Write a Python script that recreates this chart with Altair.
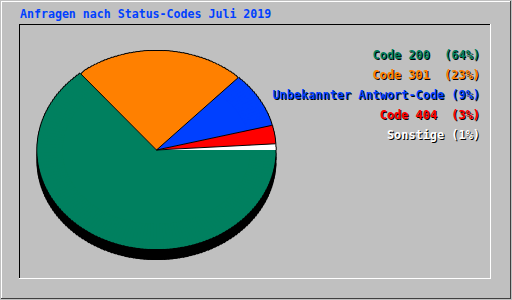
import math

import altair as alt
import pandas as pd

# ---- data -----------------------------------------------------------------
title_text = "Anfragen nach Status-Codes Juli 2019"
labels = ["Code 200", "Code 301", "Unbekannter Antwort-Code", "Code 404", "Sonstige"]
percents = [64, 23, 9, 3, 1]
colors = ["#00805F", "#FF8000", "#0040FF", "#FF0000", "#FFFFFF"]
gaps = [2, 2, 1, 2, 1]

# ---- layout / style ---------------------------------------------------------
W, H = 512, 300
BG = "#C0C0C0"
FONT = "DejaVu Sans Mono"
TITLE_FS = 11.6
LEG_FS = 11.9
CX, CY = 156.5, 150.0      # pie centre
RX, RY = 119.0, 99.0       # ellipse semi-axes
DEPTH = 10                 # height of the dark side of the pie
STEP = 0.5                 # angular resolution (percent of the circle)
LEG_X, LEG_Y0, LEG_DY = 480, 54.5, 20

NBSP = "\u00a0"
legend_text = [f"{n}{NBSP * g}({p}%)" for n, g, p in zip(labels, gaps, percents)]
df = pd.DataFrame(
    {"label": labels, "value": percents, "order": list(range(len(labels))), "legend": legend_text}
)

color_scale = alt.Scale(domain=labels, range=colors)
theta_scale = alt.Scale(domain=[0, 100], range=[math.pi / 2, math.pi / 2 + 2 * math.pi])


def tau(f):
    """Parametric angle (clockwise from north) of a share position f in percent."""
    return f"(PI/2 + 2*PI*({f})/100)"


def screen_pct(f):
    """Share position f moved to the true screen direction of the squashed circle."""
    t = tau(f)
    phi = f"atan2({RX}*sin({t}), {RY}*cos({t}))"
    return f"(({f}) + atan2(sin({phi} - {t}), cos({phi} - {t}))*100/(2*PI))"


def radius(f):
    t = tau(f)
    return f"sqrt(pow({RX}*sin({t}),2) + pow({RY}*cos({t}),2))"


def cumulated(chart):
    return chart.transform_window(
        cum="sum(value)", sort=[alt.SortField("order")], frame=[None, 0]
    ).transform_calculate(start="datum.cum - datum.value")


theta = alt.Theta("s:Q", scale=theta_scale, stack=None)
theta2 = alt.Theta2("e:Q")
slice_color = alt.Color("label:N", scale=color_scale, legend=None)

# solid core of every slice (inside the ellipse's inner circle)
core = (
    cumulated(alt.Chart(df))
    .transform_calculate(s=screen_pct("datum.start"))
    .transform_calculate(e=screen_pct("datum.cum"))
    .mark_arc(radius=RY - 2)
    .encode(theta=theta, theta2=theta2, color=slice_color, x=alt.value(CX), y=alt.value(CY))
)

# each slice split into thin overlapping wedges that follow the ellipse
wedges = (
    cumulated(alt.Chart(df))
    .transform_calculate(s0=f"sequence(datum.start, datum.cum, {STEP})")
    .transform_flatten(["s0"])
    .transform_calculate(e0=f"min(datum.s0 + {2 * STEP}, datum.cum)")
    .transform_calculate(s=screen_pct("datum.s0"))
    .transform_calculate(e=screen_pct("datum.e0"))
    .transform_calculate(r=radius(f"(datum.s0 + datum.e0)/2"))
    .transform_calculate(ro="datum.r + 1", ri="datum.r - 3", rs="datum.r - 25")
)

side = wedges.mark_arc(fill="#000000").encode(
    theta=theta, theta2=theta2,
    radius=alt.Radius("ro:Q", scale=None), radius2=alt.Radius2("rs:Q"),
    x=alt.value(CX), y=alt.value(CY + DEPTH),
)
rim = wedges.mark_arc(fill="#000000").encode(
    theta=theta, theta2=theta2,
    radius=alt.Radius("ro:Q", scale=None), radius2=alt.Radius2("ri:Q"),
    x=alt.value(CX), y=alt.value(CY),
)
slices = wedges.mark_arc().encode(
    theta=theta, theta2=theta2,
    radius=alt.Radius("r:Q", scale=None), radius2=alt.Radius2("rs:Q"),
    color=slice_color, x=alt.value(CX), y=alt.value(CY),
)

# black separators between neighbouring slices
dividers = (
    cumulated(alt.Chart(df))
    .transform_filter("datum.cum < 100")
    .transform_calculate(px=f"{CX} + {RX}*sin({tau('datum.cum')})")
    .transform_calculate(py=f"{CY} - {RY}*cos({tau('datum.cum')})")
    .mark_rule(color="#000000", strokeWidth=1)
    .encode(
        x=alt.X("px:Q", scale=None, axis=None),
        y=alt.Y("py:Q", scale=None, axis=None),
        x2=alt.value(CX),
        y2=alt.value(CY),
    )
)

# legend texts at the right, with a dark drop shadow
legend_base = alt.Chart(df).transform_calculate(ty=f"{LEG_Y0} + {LEG_DY}*datum.order")
text_style = dict(align="right", baseline="middle", font=FONT, fontSize=LEG_FS, fontWeight="bold")
legend_shadow = legend_base.mark_text(dx=1, dy=1, fill="#000000", **text_style).encode(
    x=alt.value(LEG_X), y=alt.Y("ty:Q", scale=None, axis=None), text="legend:N"
)
legend_main = legend_base.mark_text(**text_style).encode(
    x=alt.value(LEG_X), y=alt.Y("ty:Q", scale=None, axis=None), text="legend:N",
    color=slice_color,
)

title = alt.Chart(pd.DataFrame({"t": [title_text]})).mark_text(
    align="left", baseline="middle", font=FONT, fontSize=TITLE_FS, fontWeight="bold", fill="#0040FF"
).encode(x=alt.value(20), y=alt.value(15), text="t:N")

# bevelled frame lines
one = pd.DataFrame({"k": [0]})


def line(x1, y1, x2, y2, color):
    return alt.Chart(one).mark_rule(color=color, strokeWidth=1).encode(
        x=alt.value(x1), y=alt.value(y1), x2=alt.value(x2), y2=alt.value(y2)
    )


frame = [
    line(1, 1.5, 510, 1.5, "#FFFFFF"),
    line(1.5, 1, 1.5, 298, "#FFFFFF"),
    line(1, 298.5, 511, 298.5, "#404040"),
    line(510.5, 1, 510.5, 299, "#404040"),
    line(19, 24.5, 491, 24.5, "#000000"),
    line(19.5, 24, 19.5, 279, "#000000"),
    line(19, 278.5, 491, 278.5, "#FFFFFF"),
    line(490.5, 24, 490.5, 279, "#FFFFFF"),
]

chart = (
    alt.layer(*frame, title, side, rim, core, slices, dividers, legend_shadow, legend_main)
    .resolve_scale(x="independent", y="independent")
    .properties(width=W, height=H, autosize=alt.AutoSizeParams(type="none"), padding=0, background=BG)
    .configure_view(stroke=None)
)

chart.save("out.html", embed_options={"renderer": "svg", "actions": False})
